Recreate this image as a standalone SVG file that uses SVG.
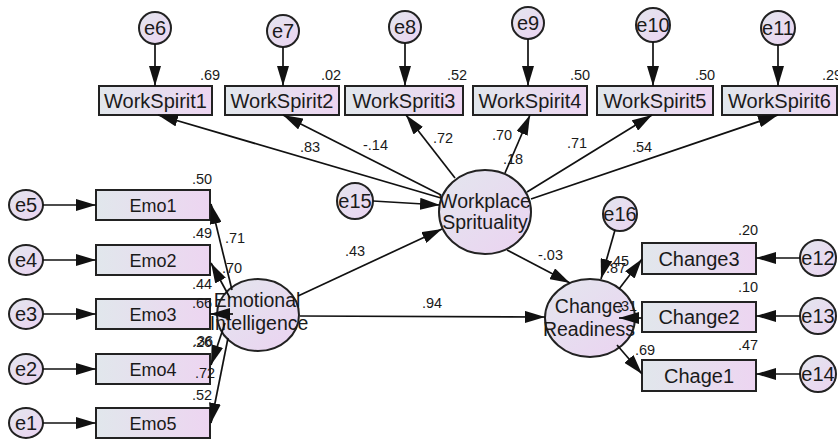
<svg xmlns="http://www.w3.org/2000/svg" width="838" height="443" viewBox="0 0 838 443">
<defs>
<linearGradient id="gb" x1="0" y1="0" x2="1" y2="0"><stop offset="0" stop-color="#e1e7ec"/><stop offset="1" stop-color="#edd5f1"/></linearGradient>
<linearGradient id="gc" x1="0" y1="0" x2="1" y2="1"><stop offset="0" stop-color="#e3e6ee"/><stop offset="1" stop-color="#ebd3f1"/></linearGradient>
<marker id="ah" viewBox="0 0 20 12" refX="20" refY="6" markerWidth="20" markerHeight="12" markerUnits="userSpaceOnUse" orient="auto"><path d="M0,0 L20,6 L0,12 z" fill="#111"/></marker>
<style>
.box{fill:url(#gb);stroke:#222;stroke-width:2}
.lat{fill:url(#gc);stroke:#222;stroke-width:2}
.t{font-family:"Liberation Sans",Arial,sans-serif;fill:#1a1a1a;text-anchor:middle}
.e{font-size:20px}
.b20{font-size:20px}
.b16{font-size:18px}
.big{font-size:19.5px}
.c line,.c path{stroke:#111;stroke-width:1.7;fill:none;marker-end:url(#ah)}
.l{font-family:"Liberation Sans",Arial,sans-serif;font-size:14.5px;fill:#1a1a1a}
</style>
</defs>
<rect width="838" height="443" fill="#fff"/>

<g id="e6"><circle class="lat" cx="155" cy="28" r="16"/><text class="t e" x="155" y="35">e6</text></g>
<g id="e7"><circle class="lat" cx="283" cy="31" r="16"/><text class="t e" x="283" y="38">e7</text></g>
<g id="e8"><circle class="lat" cx="405" cy="27" r="16"/><text class="t e" x="405" y="34">e8</text></g>
<g id="e9"><circle class="lat" cx="528" cy="23" r="16"/><text class="t e" x="528" y="30">e9</text></g>
<g id="e10"><circle class="lat" cx="653" cy="25" r="17"/><text class="t e" x="653" y="32">e10</text></g>
<g id="e11"><circle class="lat" cx="778" cy="28" r="17"/><text class="t e" x="778" y="35">e11</text></g>

<g id="WorkSpirit1"><rect class="box" x="99" y="86" width="113" height="29"/><text class="t b20" x="155.5" y="108">WorkSpirit1</text></g>
<g id="WorkSpirit2"><rect class="box" x="225" y="86" width="114" height="29"/><text class="t b20" x="282" y="108">WorkSpirit2</text></g>
<g id="WorkSpriti3"><rect class="box" x="345" y="86" width="118" height="29"/><text class="t b20" x="404" y="108">WorkSpriti3</text></g>
<g id="WorkSpirit4"><rect class="box" x="473" y="86" width="114" height="29"/><text class="t b20" x="530" y="108">WorkSpirit4</text></g>
<g id="WorkSpirit5"><rect class="box" x="597" y="86" width="116" height="29"/><text class="t b20" x="655" y="108">WorkSpirit5</text></g>
<g id="WorkSpirit6"><rect class="box" x="722" y="86" width="115" height="29"/><text class="t b20" x="779.5" y="108">WorkSpirit6</text></g>

<g id="e5"><ellipse class="lat" cx="26" cy="205" rx="17" ry="15"/><text class="t e" x="26" y="212">e5</text></g>
<g id="e4"><ellipse class="lat" cx="26" cy="260" rx="17" ry="15"/><text class="t e" x="26" y="267">e4</text></g>
<g id="e3"><ellipse class="lat" cx="26" cy="314" rx="17" ry="15"/><text class="t e" x="26" y="321">e3</text></g>
<g id="e2"><ellipse class="lat" cx="26" cy="369" rx="17" ry="15"/><text class="t e" x="26" y="376">e2</text></g>
<g id="e1"><ellipse class="lat" cx="26" cy="423" rx="17" ry="15"/><text class="t e" x="26" y="430">e1</text></g>

<g id="Emo1"><rect class="box" x="96" y="190" width="114" height="30"/><text class="t b16" x="153" y="212">Emo1</text></g>
<g id="Emo2"><rect class="box" x="96" y="245" width="114" height="30"/><text class="t b16" x="153" y="267">Emo2</text></g>
<g id="Emo3"><rect class="box" x="96" y="299" width="114" height="30"/><text class="t b16" x="153" y="321">Emo3</text></g>
<g id="Emo4"><rect class="box" x="96" y="354" width="114" height="30"/><text class="t b16" x="153" y="376">Emo4</text></g>
<g id="Emo5"><rect class="box" x="96" y="408" width="114" height="30"/><text class="t b16" x="153" y="430">Emo5</text></g>

<g id="EmotionalIntelligence"><ellipse class="lat" cx="258" cy="315" rx="41" ry="36"/><text class="t big" x="257" y="307">Emotional</text><text class="t big" x="259" y="330">Intelligence</text></g>

<g id="e15"><circle class="lat" cx="355" cy="201" r="18"/><text class="t e" x="355" y="208">e15</text></g>
<g id="WorkplaceSprituality"><ellipse class="lat" cx="485" cy="212" rx="46" ry="42"/><text class="t big" x="485" y="208">Workplace</text><text class="t big" x="485" y="229">Sprituality</text></g>

<g id="e16"><circle class="lat" cx="620" cy="214" r="17"/><text class="t e" x="620" y="221">e16</text></g>
<g id="ChangeReadiness"><ellipse class="lat" cx="590" cy="318" rx="45" ry="39"/><text class="t big" x="589" y="313">Change</text><text class="t big" x="589" y="336">Readiness</text></g>

<g id="Change3"><rect class="box" x="642" y="243" width="114" height="31"/><text class="t b20" x="699" y="266">Change3</text></g>
<g id="Change2"><rect class="box" x="642" y="302" width="114" height="30"/><text class="t b20" x="699" y="324">Change2</text></g>
<g id="Chage1"><rect class="box" x="642" y="360" width="114" height="31"/><text class="t b20" x="699" y="383">Chage1</text></g>

<g id="e12"><circle class="lat" cx="818" cy="258" r="18"/><text class="t e" x="818" y="265">e12</text></g>
<g id="e13"><circle class="lat" cx="818" cy="316" r="18"/><text class="t e" x="818" y="323">e13</text></g>
<g id="e14"><circle class="lat" cx="818" cy="374" r="18"/><text class="t e" x="818" y="381">e14</text></g>

<g id="connectors" class="c">
<line x1="155" y1="44" x2="155" y2="86"/>
<line x1="283" y1="47" x2="283" y2="86"/>
<line x1="405" y1="43" x2="405" y2="86"/>
<line x1="528" y1="39" x2="528" y2="86"/>
<line x1="653" y1="42" x2="653" y2="86"/>
<line x1="778" y1="45" x2="778" y2="86"/>
<line x1="441" y1="198" x2="158" y2="115"/>
<line x1="441" y1="195" x2="283" y2="115"/>
<line x1="455" y1="178" x2="406" y2="115"/>
<line x1="505" y1="173" x2="530" y2="115"/>
<line x1="527" y1="192" x2="652" y2="115"/>
<line x1="531" y1="199" x2="778" y2="115"/>
<line x1="373" y1="201" x2="440" y2="205"/>
<line x1="298" y1="296" x2="442" y2="229"/>
<line x1="300" y1="316" x2="545" y2="317"/>
<line x1="507" y1="250" x2="570" y2="283"/>
<line x1="615" y1="230" x2="601" y2="279"/>
<line x1="619" y1="289" x2="642" y2="259"/>
<line x1="642" y1="318" x2="619" y2="318"/>
<line x1="617" y1="345" x2="642" y2="374"/>
<line x1="800" y1="258" x2="756" y2="258"/>
<line x1="800" y1="316" x2="756" y2="316"/>
<line x1="800" y1="374" x2="756" y2="374"/>
<line x1="43" y1="205" x2="96" y2="205"/>
<line x1="43" y1="260" x2="96" y2="260"/>
<line x1="43" y1="314" x2="96" y2="314"/>
<line x1="43" y1="369" x2="96" y2="369"/>
<line x1="43" y1="423" x2="96" y2="423"/>
<line x1="232" y1="290" x2="211" y2="204"/>
<line x1="230" y1="298" x2="211" y2="263"/>
<line x1="233" y1="314" x2="210" y2="314"/>
<line x1="225" y1="323" x2="211" y2="365"/>
<line x1="228" y1="338" x2="211" y2="423"/>
</g>

<g id="labels" class="l">
<text x="200" y="80">.69</text>
<text x="321" y="80">.02</text>
<text x="447" y="80">.52</text>
<text x="570" y="80">.50</text>
<text x="695" y="80">.50</text>
<text x="822" y="80">.29</text>
<text x="300" y="152">.83</text>
<text x="363" y="150">-.14</text>
<text x="433" y="143">.72</text>
<text x="492" y="140">.70</text>
<text x="503" y="164">.18</text>
<text x="567" y="148">.71</text>
<text x="632" y="152">.54</text>
<text x="345" y="256">.43</text>
<text x="422" y="308">.94</text>
<text x="538" y="260">-.03</text>
<text x="738" y="235">.20</text>
<text x="738" y="292">.10</text>
<text x="738" y="350">.47</text>
<text x="635" y="355">.69</text>
<text x="606" y="273">.87</text>
<text x="609" y="266">.45</text>
<text x="617" y="311">.31</text>
<text x="192" y="184">.50</text>
<text x="192" y="238">.49</text>
<text x="225" y="243">.71</text>
<text x="222" y="273">.70</text>
<text x="192" y="289">.44</text>
<text x="192" y="308">.66</text>
<text x="192" y="347">.26</text>
<text x="193" y="346">.36</text>
<text x="195" y="378">.72</text>
<text x="192" y="400">.52</text>
</g>
</svg>
